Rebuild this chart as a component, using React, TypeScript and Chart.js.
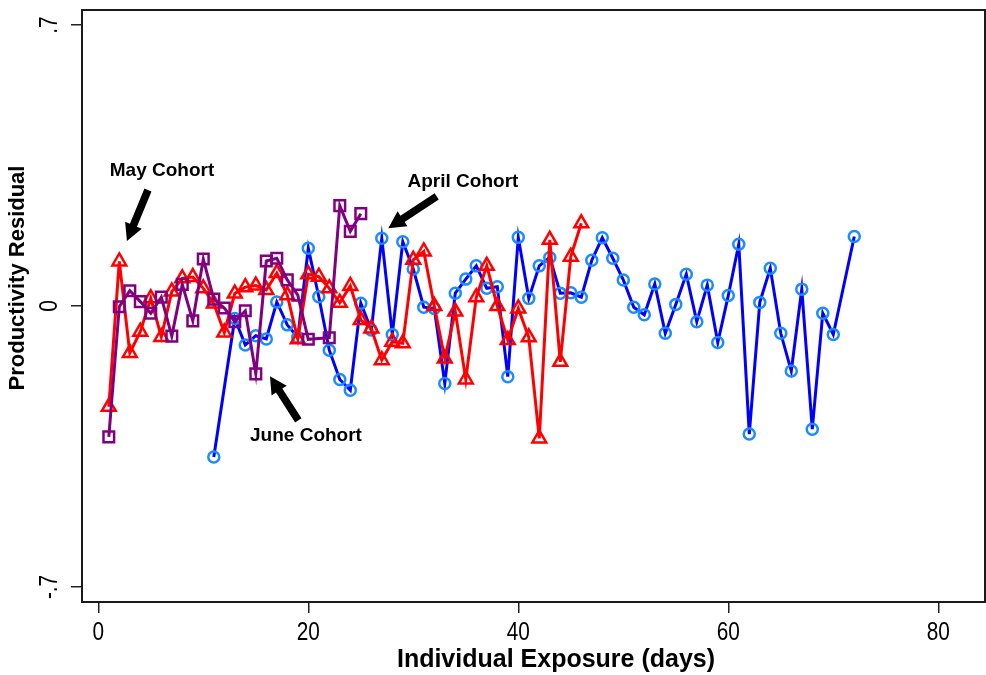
import React, { useEffect, useRef } from 'react';
import { Chart, registerables } from 'chart.js';

Chart.register(...registerables);

// April cohort (blue, hollow circles)
const aprilDays = [11, 13, 14, 15, 16, 17, 18, 19, 20, 21, 22, 23, 24, 25, 26, 27, 28, 29, 30, 31, 32, 33, 34, 35, 36, 37, 38, 39, 40, 41, 42, 43, 44, 45, 46, 47, 48, 49, 50, 51, 52, 53, 54, 55, 56, 57, 58, 59, 60, 61, 62, 63, 64, 65, 66, 67, 68, 69, 70, 72];
const aprilResid = [-0.376, -0.031, -0.097, -0.074, -0.082, 0.010, -0.047, -0.078, 0.144, 0.023, -0.110, -0.183, -0.210, 0.007, -0.060, 0.169, -0.071, 0.160, 0.092, -0.003, -0.006, -0.193, 0.032, 0.067, 0.100, 0.044, 0.048, -0.176, 0.171, 0.019, 0.100, 0.121, 0.032, 0.033, 0.022, 0.114, 0.170, 0.119, 0.065, -0.003, -0.022, 0.055, -0.068, 0.004, 0.079, -0.039, 0.052, -0.091, 0.026, 0.154, -0.319, 0.009, 0.094, -0.068, -0.162, 0.042, -0.307, -0.018, -0.071, 0.173];

// May cohort (red, hollow triangles)
const mayDays = [1, 2, 3, 4, 5, 6, 7, 8, 9, 10, 11, 12, 13, 14, 15, 16, 17, 18, 19, 20, 21, 22, 23, 24, 25, 26, 27, 28, 29, 30, 31, 32, 33, 34, 35, 36, 37, 38, 39, 40, 41, 42, 43, 44, 45, 46];
const mayResid = [-0.251, 0.111, -0.117, -0.064, 0.019, -0.077, 0.036, 0.069, 0.072, 0.044, 0.006, -0.066, 0.031, 0.047, 0.051, 0.040, 0.082, 0.027, -0.083, 0.079, 0.073, 0.044, 0.008, 0.050, -0.035, -0.056, -0.135, -0.089, -0.093, 0.115, 0.136, 0.000, -0.131, -0.014, -0.183, 0.022, 0.100, 0.000, -0.085, -0.006, -0.078, -0.330, 0.165, -0.139, 0.123, 0.206];

// June cohort (purple, hollow squares)
const juneDays = [1, 2, 3, 4, 5, 6, 7, 8, 9, 10, 11, 12, 13, 14, 15, 16, 17, 18, 19, 20, 22, 23, 24, 25];
const juneResid = [-0.326, -0.002, 0.038, 0.011, -0.018, 0.022, -0.075, 0.054, -0.037, 0.117, 0.017, -0.005, -0.039, -0.012, -0.169, 0.112, 0.119, 0.065, 0.027, -0.083, -0.079, 0.250, 0.186, 0.230];

const xTickValues = [0, 20, 40, 60, 80];
const xTickLabels = ['0', '20', '40', '60', '80'];
const yTickValues = [-0.7, 0, 0.7];
const yTickLabels = ['-.7', '0', '.7'];

const xTitle = 'Individual Exposure (days)';
const yTitle = 'Productivity Residual';

// annotation text + arrow (tail -> tip) in data units
const noteTexts = ['May Cohort', 'April Cohort', 'June Cohort'];
const noteTextPos = [[6.07, 0.337], [34.73, 0.309], [19.78, -0.324]];
const noteArrowTail = [[4.73, 0.289], [32.23, 0.273], [19.05, -0.285]];
const noteArrowTip = [[2.73, 0.162], [27.62, 0.194], [16.35, -0.175]];

const toPoints = (xs: number[], ys: number[]) => xs.map((x, i) => ({ x, y: ys[i] }));

function drawArrow(ctx: CanvasRenderingContext2D, x0: number, y0: number, x1: number, y1: number) {
  const dx = x1 - x0;
  const dy = y1 - y0;
  const len = Math.hypot(dx, dy);
  const ux = dx / len;
  const uy = dy / len;
  const nx = -uy;
  const ny = ux;
  const shaft = 3.8;
  const headLen = 17;
  const headHalf = 9;
  const bx = x1 - ux * headLen;
  const by = y1 - uy * headLen;
  ctx.beginPath();
  ctx.moveTo(x0 + nx * shaft, y0 + ny * shaft);
  ctx.lineTo(bx + nx * shaft, by + ny * shaft);
  ctx.lineTo(bx + nx * headHalf, by + ny * headHalf);
  ctx.lineTo(x1, y1);
  ctx.lineTo(bx - nx * headHalf, by - ny * headHalf);
  ctx.lineTo(bx - nx * shaft, by - ny * shaft);
  ctx.lineTo(x0 - nx * shaft, y0 - ny * shaft);
  ctx.closePath();
  ctx.fill();
}

const overlayPlugin = {
  id: 'overlay',
  afterDraw(chart: any) {
    const { ctx, chartArea: a, scales } = chart;
    const xs = scales.x;
    const ys = scales.y;
    ctx.save();
    // plot frame
    ctx.strokeStyle = '#1a1a1a';
    ctx.lineWidth = 2;
    ctx.strokeRect(a.left, a.top, a.right - a.left, a.bottom - a.top);

    ctx.fillStyle = '#000';
    // x tick labels (condensed)
    ctx.font = '26px "Liberation Sans", Arial, sans-serif';
    ctx.textAlign = 'center';
    ctx.textBaseline = 'middle';
    xTickValues.forEach((v, i) => {
      const px = xs.getPixelForValue(v);
      ctx.save();
      ctx.translate(px, a.bottom + 31);
      ctx.scale(0.8, 1);
      ctx.fillText(xTickLabels[i], 0, 0);
      ctx.restore();
    });
    // y tick labels (rotated, condensed)
    yTickValues.forEach((v, i) => {
      const py = ys.getPixelForValue(v);
      ctx.save();
      ctx.translate(a.left - 32, py);
      ctx.rotate(-Math.PI / 2);
      ctx.scale(0.8, 1);
      ctx.fillText(yTickLabels[i], 0, 0);
      ctx.restore();
    });

    // axis titles
    ctx.font = 'bold 25px "Liberation Sans", Arial, sans-serif';
    ctx.fillText(xTitle, 556, 660);
    ctx.save();
    ctx.translate(18, 278);
    ctx.rotate(-Math.PI / 2);
    ctx.font = 'bold 22px "Liberation Sans", Arial, sans-serif';
    ctx.fillText(yTitle, 0, 0);
    ctx.restore();

    // annotations
    ctx.font = 'bold 19px "Liberation Sans", Arial, sans-serif';
    noteTexts.forEach((t, i) => {
      ctx.fillText(t, xs.getPixelForValue(noteTextPos[i][0]), ys.getPixelForValue(noteTextPos[i][1]));
      drawArrow(
        ctx,
        xs.getPixelForValue(noteArrowTail[i][0]),
        ys.getPixelForValue(noteArrowTail[i][1]),
        xs.getPixelForValue(noteArrowTip[i][0]),
        ys.getPixelForValue(noteArrowTip[i][1])
      );
    });
    ctx.restore();
  },
};

export default function App() {
  const canvasRef = useRef<HTMLCanvasElement | null>(null);

  useEffect(() => {
    document.documentElement.style.overflow = 'hidden';
    document.body.style.overflow = 'hidden';
    const canvas = canvasRef.current;
    if (!canvas) return;
    const chart = new Chart(canvas, {
      type: 'line',
      data: {
        datasets: [
          {
            label: 'June Cohort',
            data: toPoints(juneDays, juneResid),
            borderColor: '#800080',
            borderWidth: 3,
            pointStyle: 'rect',
            pointRadius: 7.5,
            pointBorderColor: '#800080',
            pointBackgroundColor: 'rgba(0,0,0,0)',
            pointBorderWidth: 2.5,
            tension: 0,
          },
          {
            label: 'May Cohort',
            data: toPoints(mayDays, mayResid),
            borderColor: '#ff0000',
            borderWidth: 3,
            pointStyle: 'triangle',
            pointRadius: 8,
            pointBorderColor: '#ff0000',
            pointBackgroundColor: 'rgba(0,0,0,0)',
            pointBorderWidth: 2.5,
            tension: 0,
          },
          {
            label: 'April Cohort',
            data: toPoints(aprilDays, aprilResid),
            borderColor: '#0000ff',
            borderWidth: 3,
            pointStyle: 'circle',
            pointRadius: 5.5,
            pointBorderColor: '#1a8cff',
            pointBackgroundColor: 'rgba(0,0,0,0)',
            pointBorderWidth: 2.5,
            tension: 0,
          },
        ],
      },
      options: {
        animation: false,
        responsive: false,
        devicePixelRatio: 1,
        layout: { autoPadding: false, padding: { top: 10, right: 1, left: 0, bottom: 0 } },
        plugins: {
          legend: { display: false },
          tooltip: { enabled: false },
        },
        scales: {
          x: {
            type: 'linear',
            min: -1.552,
            max: 84.45,
            afterBuildTicks: (s: any) => {
              s.ticks = xTickValues.map((v) => ({ value: v }));
            },
            afterFit: (s: any) => {
              s.height = 73;
            },
            ticks: { display: false },
            grid: { drawOnChartArea: false, drawTicks: true, tickLength: 11, color: '#222', lineWidth: 1.5 },
            border: { display: false },
          },
          y: {
            type: 'linear',
            min: -0.7374,
            max: 0.7374,
            afterBuildTicks: (s: any) => {
              s.ticks = yTickValues.map((v) => ({ value: v }));
            },
            afterFit: (s: any) => {
              s.width = 82;
            },
            ticks: { display: false },
            grid: { drawOnChartArea: false, drawTicks: true, tickLength: 11, color: '#222', lineWidth: 1.5 },
            border: { display: false },
          },
        },
      },
      plugins: [overlayPlugin],
    });
    return () => chart.destroy();
  }, []);

  return (
    <div style={{ position: 'fixed', left: 0, top: 0, width: 986, height: 675, overflow: 'hidden', background: '#fff' }}>
      <canvas ref={canvasRef} width={986} height={675} style={{ display: 'block', width: 986, height: 675 }} />
    </div>
  );
}
